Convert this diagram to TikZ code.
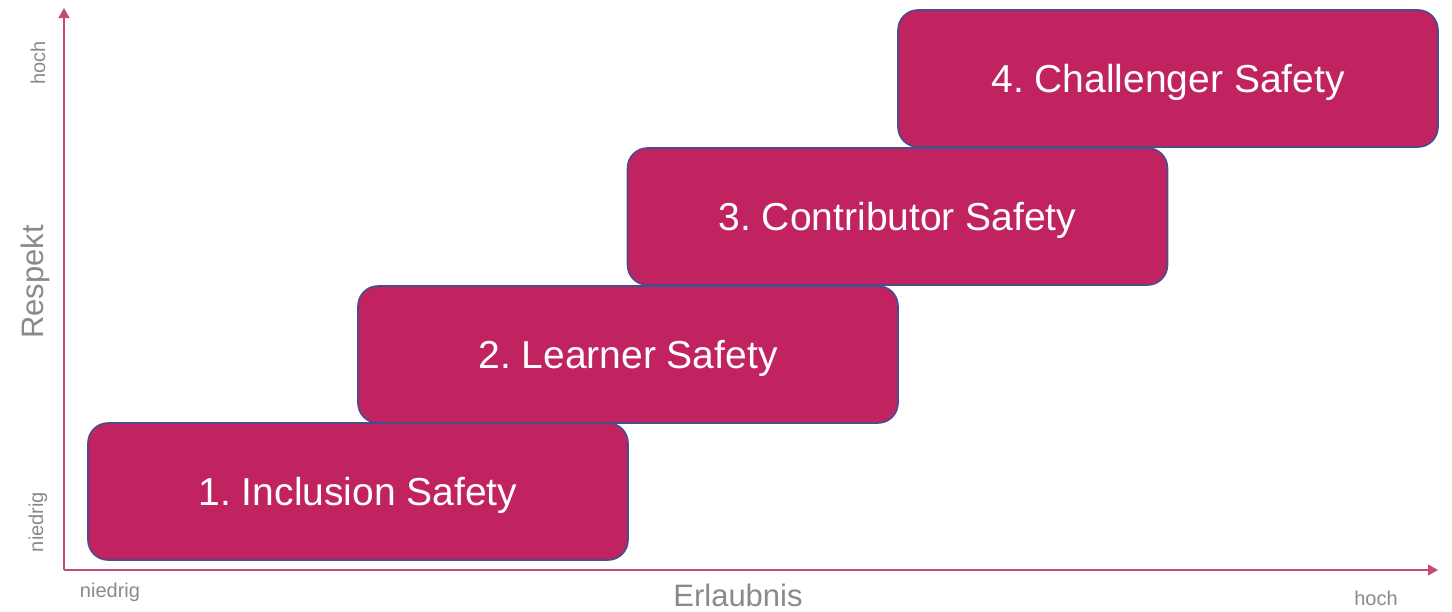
\documentclass[tikz,border=0pt]{standalone}
\usepackage{fontspec}
\setmainfont{Liberation Sans}
\frenchspacing
\usetikzlibrary{arrows.meta}
\definecolor{boxfill}{HTML}{C02360}
\definecolor{boxedge}{HTML}{4A4D8C}
\definecolor{axiscol}{HTML}{C8497A}
\definecolor{labelgray}{HTML}{8A8A8A}
\begin{document}
\begin{tikzpicture}[x=0.5pt,y=-0.5pt,
  safetybox/.style={draw=boxedge, line width=0.8pt, fill=boxfill, rounded corners=10pt,
    minimum width=270pt, minimum height=68.5pt, inner sep=0pt, text=white,
    text height=16pt, text depth=2pt,
    font=\fontsize{19.5}{23}\selectfont},
  axislabel/.style={text=labelgray, font=\fontsize{15.5}{18}\selectfont, inner sep=0pt},
  ticklabel/.style={text=labelgray, font=\fontsize{10}{12}\selectfont, inner sep=0pt},
  axisline/.style={draw=axiscol, line width=0.7pt, -{Triangle[length=5pt,width=5.5pt]}}
]
\useasboundingbox (0,0) rectangle (1452,611);
\coordinate (origin) at (64,570);
\coordinate (ytip) at (64,8);
\coordinate (xtip) at (1438,570);
\draw[axisline] (origin) -- (ytip);
\draw[axisline] (origin) -- (xtip);

\node[safetybox] (s1) at (358,491.5) {1. Inclusion Safety};
\node[safetybox] (s2) at (628,354.5) {2. Learner Safety};
\node[safetybox] (s3) at (897.5,216.5) {3. Contributor Safety};
\node[safetybox] (s4) at (1168,78.5) {4. Challenger Safety};

\node[axislabel, rotate=90] (respekt) at (35,282) {Respekt};
\node[axislabel] (erlaubnis) at (738,595) {Erlaubnis};
\node[ticklabel, rotate=90] (yhoch) at (38,63) {hoch};
\node[ticklabel, rotate=90] (yniedrig) at (38,522) {niedrig};
\node[ticklabel] (xniedrig) at (110,592) {niedrig};
\node[ticklabel] (xhoch) at (1376,598) {hoch};
\end{tikzpicture}
\end{document}
